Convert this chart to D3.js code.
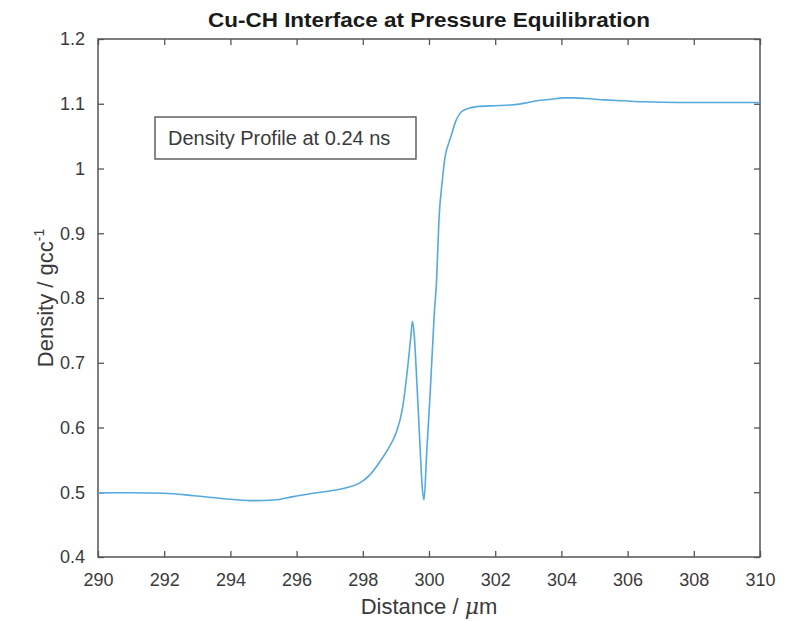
<!DOCTYPE html>
<html>
<head>
<meta charset="utf-8">
<script src="https://cdn.jsdelivr.net/npm/d3@7"></script>
<style>
  html, body { margin: 0; padding: 0; background: #fff; }
  svg { display: block; font-family: "Liberation Sans", Arial, sans-serif; }
</style>
</head>
<body>
<svg id="chart" width="797" height="621"></svg>
<script>
// Density profile across the Cu-CH interface
const distance = [290, 291, 292, 292.9, 293.9, 294.6, 295.3, 295.9, 296.6, 297.0, 297.5, 297.9, 298.2, 298.5, 298.8, 299.0, 299.2, 299.35, 299.45, 299.5, 299.55, 299.63, 299.73, 299.8, 299.85, 299.93, 300.03, 300.16, 300.23, 300.3, 300.4, 300.48, 300.6, 300.69, 300.8, 300.99, 301.2, 301.44, 302.0, 302.45, 302.9, 303.25, 303.7, 304.06, 304.4, 304.76, 305.3, 305.77, 306.5, 307.5, 308.5, 309.5, 310];
const density = [0.499, 0.4992, 0.4985, 0.4947, 0.4896, 0.487, 0.488, 0.4932, 0.4993, 0.502, 0.507, 0.514, 0.526, 0.546, 0.57, 0.591, 0.63, 0.69, 0.74, 0.764, 0.745, 0.673, 0.57, 0.505, 0.488, 0.561, 0.648, 0.776, 0.828, 0.92, 0.98, 1.016, 1.04, 1.054, 1.072, 1.088, 1.093, 1.0955, 1.097, 1.098, 1.101, 1.1047, 1.107, 1.109, 1.109, 1.108, 1.106, 1.1047, 1.103, 1.102, 1.102, 1.102, 1.102];

const xTicks = [290, 292, 294, 296, 298, 300, 302, 304, 306, 308, 310];
const yTicks = [0.4, 0.5, 0.6, 0.7, 0.8, 0.9, 1.0, 1.1, 1.2];

const titleText = "Cu-CH Interface at Pressure Equilibration";
const legendText = "Density Profile at 0.24 ns";

(function () {
  const svg = d3.select("#chart");
  const m = { left: 98, right: 760, top: 39, bottom: 557 };
  const axisColor = "#555";
  const textColor = "#3a3a3a";
  const tickFont = "18px";

  const x = d3.scaleLinear().domain([290, 310]).range([m.left, m.right]);
  const y = d3.scaleLinear().domain([0.4, 1.2]).range([m.bottom, m.top]);

  const tickLen = 6;
  const fmtY = d => (d === 1 ? "1" : d3.format(".1f")(d));

  // Bottom axis (ticks point inward)
  const gx = svg.append("g").attr("transform", `translate(0,${m.bottom})`)
    .call(d3.axisBottom(x).tickValues(xTicks).tickSizeInner(-tickLen).tickSizeOuter(0).tickPadding(16).tickFormat(d3.format("d")));
  // Left axis
  const gy = svg.append("g").attr("transform", `translate(${m.left},0)`)
    .call(d3.axisLeft(y).tickValues(yTicks).tickSizeInner(-tickLen).tickSizeOuter(0).tickPadding(13).tickFormat(fmtY));
  // Top and right mirror ticks
  const gt = svg.append("g").attr("transform", `translate(0,${m.top})`)
    .call(d3.axisTop(x).tickValues(xTicks).tickSizeInner(-tickLen).tickSizeOuter(0).tickFormat(""));
  const gr = svg.append("g").attr("transform", `translate(${m.right},0)`)
    .call(d3.axisRight(y).tickValues(yTicks).tickSizeInner(-tickLen).tickSizeOuter(0).tickFormat(""));

  [gx, gy, gt, gr].forEach(g => {
    g.selectAll(".domain").remove();
    g.selectAll("line").attr("stroke", axisColor).attr("stroke-width", 1.3);
    g.selectAll("text").attr("fill", textColor).style("font-size", tickFont)
      .style("font-family", "'Liberation Sans', Arial, sans-serif");
  });

  // Box frame
  svg.append("rect")
    .attr("x", m.left).attr("y", m.top)
    .attr("width", m.right - m.left).attr("height", m.bottom - m.top)
    .attr("fill", "none").attr("stroke", axisColor).attr("stroke-width", 1.5);

  // Data line
  const line = d3.line().x((d, i) => x(distance[i])).y(d => y(d)).curve(d3.curveMonotoneX);
  svg.append("path")
    .datum(density)
    .attr("d", line)
    .attr("fill", "none")
    .attr("stroke", "#55a9dc")
    .attr("stroke-width", 1.6);

  // Title
  svg.append("text")
    .attr("x", (m.left + m.right) / 2).attr("y", 27)
    .attr("text-anchor", "middle")
    .attr("textLength", 442).attr("lengthAdjust", "spacingAndGlyphs")
    .style("font-size", "21px").style("font-weight", "bold")
    .attr("fill", "#1a1a1a")
    .text(titleText);

  // X axis label
  const xl = svg.append("text")
    .attr("x", (m.left + m.right) / 2).attr("y", 614)
    .attr("text-anchor", "middle")
    .style("font-size", "22px").attr("fill", textColor);
  xl.append("tspan").text("Distance / ");
  xl.append("tspan").style("font-style", "italic").style("font-family", "'DejaVu Serif', serif").text("μ");
  xl.append("tspan").text("m");

  // Y axis label
  const yl = svg.append("text")
    .attr("transform", `translate(53,${(m.top + m.bottom) / 2}) rotate(-90)`)
    .attr("text-anchor", "middle")
    .style("font-size", "22px").attr("fill", textColor);
  yl.append("tspan").text("Density / gcc");
  yl.append("tspan").attr("dy", -9).style("font-size", "14px").text("-1");

  // Legend box
  svg.append("rect")
    .attr("x", 155).attr("y", 117).attr("width", 261).attr("height", 42)
    .attr("fill", "#fff").attr("stroke", axisColor).attr("stroke-width", 1.4);
  svg.append("text")
    .attr("x", 168).attr("y", 145)
    .style("font-size", "20px").attr("fill", textColor)
    .text(legendText);
})();
</script>
</body>
</html>
